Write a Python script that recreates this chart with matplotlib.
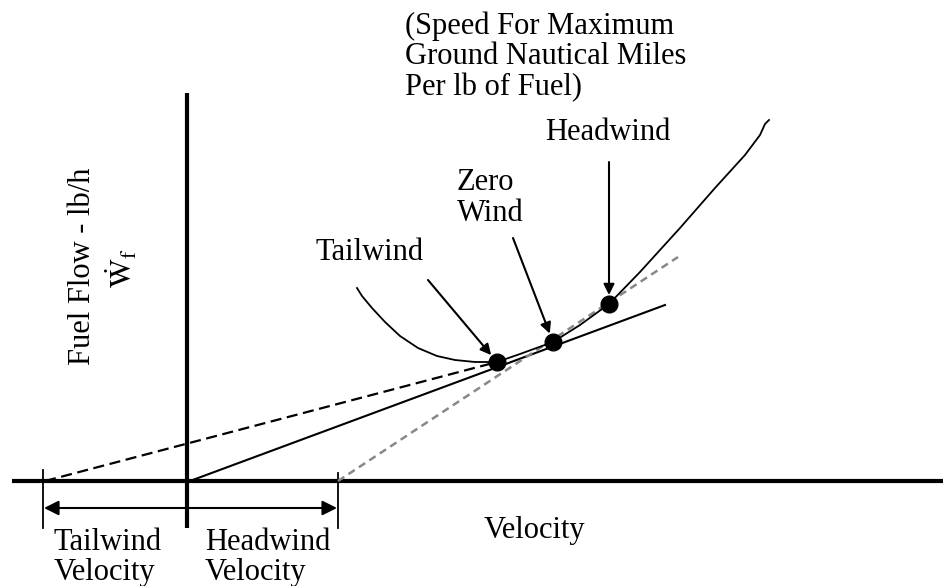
import matplotlib.pyplot as plt
import numpy as np

plt.rcParams['font.family'] = ['Liberation Serif', 'DejaVu Serif']

# diagram drawn in picture coordinates (x right, y down)
axis_origin = (187, 481)
tailwind_x = 43
headwind_x = 338

# fuel flow curve
curve_x = [357, 362, 372, 385, 400, 418, 437, 455, 475, 497, 520, 553, 580, 609, 640, 680, 715, 745, 760, 765, 769]
curve_y = [288, 296, 308, 322, 336, 348, 356, 360, 362, 362, 354, 342, 325, 304, 272, 228, 188, 155, 135, 124, 120]

# tangent points
point_x = [497, 553, 609]
point_y = [362, 342, 304]

# tangent lines (start, end)
tail_line_x = [45, 497]
tail_line_y = [481, 362]
zero_line_x = [190, 665]
zero_line_y = [481, 305]
head_line_x = [338, 678]
head_line_y = [481, 257]

# arrows pointing at the tangent points
arrow_start_x = [428, 513, 609]
arrow_start_y = [280, 238, 162]

# text blocks: lines, left x, first baseline, line step
labels = [
    (["(Speed For Maximum", "Ground Nautical Miles", "Per lb of Fuel)"], 405, 34, 30.5),
    (["Headwind"], 545, 140, 0),
    (["Zero", "Wind"], 457, 190, 31),
    (["Tailwind"], 315, 260, 0),
    (["Tailwind", "Velocity"], 54, 550, 30),
    (["Headwind", "Velocity"], 205, 550, 30),
    (["Velocity"], 484, 538, 0),
]

fs = 22

fig = plt.figure(figsize=(9.43, 5.86), dpi=100)
ax = fig.add_axes([0, 0, 1, 1])
ax.set_xlim(0, 943)
ax.set_ylim(586, 0)
ax.axis("off")

# main axes
ax.plot([12, 943], [axis_origin[1], axis_origin[1]], color="black", lw=3, solid_capstyle="butt")
ax.plot([axis_origin[0], axis_origin[0]], [93, 528], color="black", lw=3, solid_capstyle="butt")

# tick marks for wind velocities
ax.plot([tailwind_x, tailwind_x], [470, 528], color="black", lw=1.3)
ax.plot([headwind_x, headwind_x], [473, 528], color="black", lw=1.3)

# wind velocity arrows
ax.annotate("", xy=(tailwind_x + 1, 508), xytext=(axis_origin[0], 508),
            arrowprops=dict(arrowstyle="-|>", color="black", lw=1.5, mutation_scale=22,
                            shrinkA=0, shrinkB=0))
ax.annotate("", xy=(headwind_x - 1, 508), xytext=(axis_origin[0] + 2, 508),
            arrowprops=dict(arrowstyle="-|>", color="black", lw=1.5, mutation_scale=22,
                            shrinkA=0, shrinkB=0))

# tangent lines
ax.plot(tail_line_x, tail_line_y, color="black", lw=1.6, ls=(0, (5, 2.5)))
ax.plot(zero_line_x, zero_line_y, color="black", lw=1.5)
ax.plot(head_line_x, head_line_y, color="#888888", lw=1.8, ls=(0, (3, 2)))

# fuel flow curve
ax.plot(curve_x, curve_y, color="black", lw=1.3)

# tangent points
ax.plot(point_x, point_y, "o", color="black", ms=12)

# arrows to points
for sx, sy, px, py in zip(arrow_start_x, arrow_start_y, point_x, point_y):
    d = np.hypot(px - sx, py - sy)
    ex = px - (px - sx) / d * 9
    ey = py - (py - sy) / d * 9
    ax.annotate("", xy=(ex, ey), xytext=(sx, sy),
                arrowprops=dict(arrowstyle="-|>", color="black", lw=1.5, mutation_scale=16,
                                shrinkA=0, shrinkB=0))

for lines, lx, ly, step in labels:
    for i, line in enumerate(lines):
        ax.text(lx, ly + i * step, line, ha="left", va="baseline", fontsize=fs)

ax.text(83, 266, "Fuel Flow - lb/h", ha="center", va="center", rotation=90, fontsize=fs)
ax.text(122, 268, r"$\dot{\mathrm{W}}_{\mathrm{f}}$", ha="center", va="center", rotation=90,
        fontsize=fs, math_fontfamily="stix")

fig.savefig("out.png", dpi=100)
